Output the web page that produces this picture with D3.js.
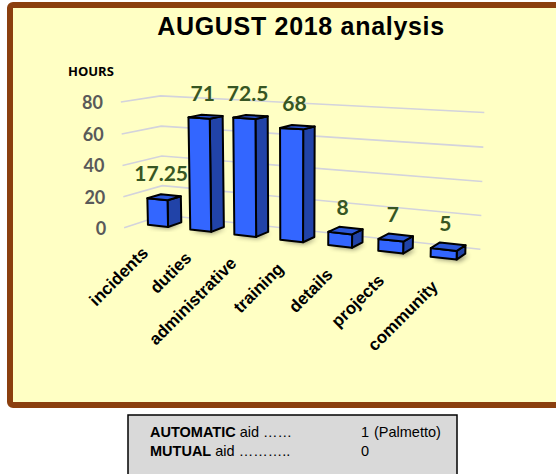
<!DOCTYPE html>
<html lang="en">
<head>
<meta charset="utf-8">
<title>AUGUST 2018 analysis</title>
<script src="https://d3js.org/d3.v7.min.js"></script>
<style>
  body { margin: 0; background: #fff; }
  svg { display: block; }
</style>
</head>
<body>
<svg id="chart"></svg>
<script>
// data
const categories = ['incidents', 'duties', 'administrative', 'training', 'details', 'projects', 'community'];
const hours = [17.25, 71, 72.5, 68, 8, 7, 5];
const hourLabels = ['17.25', '71', '72.5', '68', '8', '7', '5'];
const yTicks = [0, 20, 40, 60, 80];
const aidNames = ['AUTOMATIC', 'MUTUAL'];
const aidDots = [' aid ……', ' aid ………..'];
const aidCounts = ['1', '0'];
const aidNotes = ['(Palmetto)', ''];

const width = 556, height = 474;

const svg = d3.select('#chart')
  .attr('width', width)
  .attr('height', height);

const defs = svg.append('defs');
defs.append('filter')
  .attr('id', 'shadow')
  .attr('x', '-50%').attr('y', '-50%').attr('width', '200%').attr('height', '200%')
  .append('feGaussianBlur')
  .attr('stdDeviation', 2.5);

// frame
svg.append('rect')
  .attr('x', 10).attr('y', 5)
  .attr('width', 570).attr('height', 400)
  .attr('rx', 3)
  .attr('fill', '#FFFFC4')
  .attr('stroke', '#8B3F0E')
  .attr('stroke-width', 6);

svg.append('text')
  .attr('x', 301).attr('y', 35)
  .attr('text-anchor', 'middle')
  .style('font', 'bold 25px "Liberation Sans", Arial, sans-serif')
  .style('letter-spacing', '0.7px')
  .text('AUGUST 2018 analysis');

svg.append('text')
  .attr('x', 68).attr('y', 76)
  .style('font', 'bold 13px "Open Sans", sans-serif')
  .text('HOURS');

// 3d projection
const rad = Math.PI / 180;
const theta = 26.6 * rad, phi = 9.5 * rad, camD = 1100;
const plotW = 364.6, depth = 74, barD = 26;

const x = d3.scaleBand()
  .domain(categories)
  .range([0, plotW])
  .paddingInner(0.52)
  .paddingOuter(0.2)
  .align(0.65);

const y = d3.scaleLinear()
  .domain([0, 80])
  .range([0, 80 * 1.66]);

const Xc = plotW / 2, Yc = y(40), Zc = depth / 2;

function raw(X, Y, Z) {
  const dx = X - Xc, dy = Y - Yc, dz = Z - Zc;
  const x1 = dx * Math.cos(theta) + dz * Math.sin(theta);
  const z1 = -dx * Math.sin(theta) + dz * Math.cos(theta);
  const y2 = dy * Math.cos(phi) + z1 * Math.sin(phi);
  const z2 = -dy * Math.sin(phi) + z1 * Math.cos(phi);
  const s = camD / (camD + z2);
  return [x1 * s, -y2 * s];
}
const anchor = raw(0, 0, depth);
const ox = 163 - anchor[0], oy = 215 - anchor[1];
const P = (X, Y, Z) => { const p = raw(X, Y, Z); return [p[0] + ox, p[1] + oy]; };
const poly = pts => pts.map(p => P(...p).join(',')).join(' ');

const plot = svg.append('g');

// gridlines on left and back walls
const grid = plot.append('g');
grid.selectAll('polyline')
  .data(yTicks)
  .join('polyline')
  .attr('points', d => poly([[0, y(d), 0], [0, y(d), depth], [plotW, y(d), depth]]))
  .attr('fill', 'none')
  .attr('stroke', '#D3D3DC')
  .attr('stroke-width', 1.6);

plot.append('g').selectAll('text')
  .data(yTicks)
  .join('text')
  .attr('x', d => P(0, y(d), 0)[0] - 18)
  .attr('y', d => P(0, y(d), 0)[1] + 7)
  .attr('text-anchor', 'end')
  .attr('fill', '#595959')
  .style('font', 'bold 18px Lato, sans-serif')
  .text(d => d);

// bars
const z0 = (depth - barD) / 2, z1 = z0 + barD;
const bars = plot.append('g').selectAll('g')
  .data(categories)
  .join('g');

bars.append('polygon')
  .attr('points', d => {
    const a = x(d) + 5, b = x(d) + x.bandwidth() + 5;
    return poly([[a, 0, z0 - 6], [b, 0, z0 - 6], [b, 0, z1 - 6], [a, 0, z1 - 6]]);
  })
  .attr('fill', '#000')
  .attr('opacity', 0.45)
  .attr('filter', 'url(#shadow)');

const faceStyle = sel => sel
  .attr('stroke', '#000')
  .attr('stroke-width', 2)
  .attr('stroke-linejoin', 'round');

bars.append('polygon')
  .attr('points', (d, i) => {
    const b = x(d) + x.bandwidth(), h = y(hours[i]);
    return poly([[b, 0, z0], [b, 0, z1], [b, h, z1], [b, h, z0]]);
  })
  .attr('fill', '#2143A8')
  .call(faceStyle);

bars.append('polygon')
  .attr('points', (d, i) => {
    const a = x(d), b = x(d) + x.bandwidth(), h = y(hours[i]);
    return poly([[a, 0, z0], [b, 0, z0], [b, h, z0], [a, h, z0]]);
  })
  .attr('fill', '#3366FF')
  .call(faceStyle);

bars.append('polygon')
  .attr('points', (d, i) => {
    const a = x(d), b = x(d) + x.bandwidth(), h = y(hours[i]);
    return poly([[a, h, z0], [b, h, z0], [b, h, z1], [a, h, z1]]);
  })
  .attr('fill', '#2B57D9')
  .call(faceStyle);

// value labels
plot.append('g').selectAll('text')
  .data(categories)
  .join('text')
  .attr('x', (d, i) => P(x(d) + x.bandwidth() / 2, y(hours[i]), depth / 2)[0] - 3)
  .attr('y', (d, i) => P(x(d) + x.bandwidth() / 2, y(hours[i]), depth / 2)[1] - 16)
  .attr('text-anchor', 'middle')
  .attr('fill', '#375623')
  .style('font', 'bold 21px Lato, sans-serif')
  .text((d, i) => hourLabels[i]);

// category labels
plot.append('g').selectAll('text')
  .data(categories)
  .join('text')
  .attr('transform', d => {
    const p = P(x(d) + x.bandwidth() / 2, 0, 0);
    return `translate(${p[0] + 4},${p[1] + 24}) rotate(-45)`;
  })
  .attr('text-anchor', 'end')
  .attr('fill', '#000')
  .style('font', 'bold 17px "Liberation Sans", Arial, sans-serif')
  .text(d => d);

// aid box
svg.append('rect')
  .attr('x', 128).attr('y', 415)
  .attr('width', 329).attr('height', 80)
  .attr('fill', '#D9D9D9')
  .attr('stroke', '#000')
  .attr('stroke-width', 1.5);

const rows = svg.append('g')
  .style('font', '14.5px "Liberation Sans", Arial, sans-serif')
  .selectAll('g')
  .data(aidNames)
  .join('g')
  .attr('transform', (d, i) => `translate(0,${437 + i * 19})`);

const lead = rows.append('text').attr('x', 150);
lead.append('tspan').style('font-weight', 'bold').text(d => d);
lead.append('tspan').text((d, i) => aidDots[i]);

rows.append('text')
  .attr('x', 361)
  .text((d, i) => aidCounts[i]);

rows.append('text')
  .attr('x', 374)
  .text((d, i) => aidNotes[i]);
</script>
</body>
</html>
